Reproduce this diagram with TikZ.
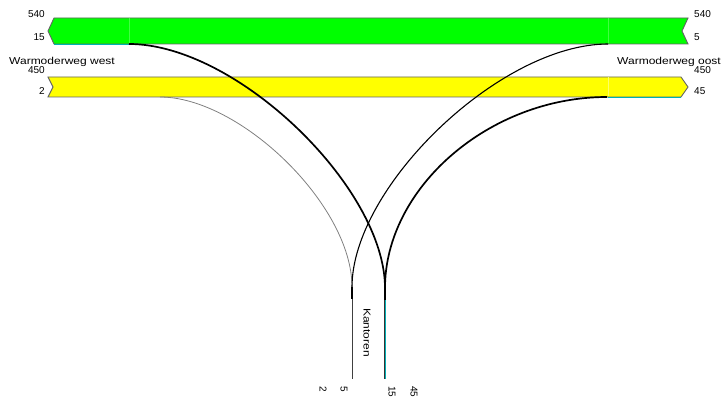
\documentclass[tikz,border=0pt]{standalone}
\usepackage{graphicx}
\usepackage{fontspec}
\setmainfont{Liberation Sans}
\usepackage{tikz}
\usetikzlibrary{positioning}

\definecolor{flowgreen}{RGB}{0,255,0}
\definecolor{flowyellow}{RGB}{255,255,0}
\definecolor{edgegray}{RGB}{100,100,100}
\definecolor{flowteal}{RGB}{0,175,180}

\tikzset{
  band/.style={draw=edgegray, line width=0.9pt},
  num/.style={font=\fontsize{10}{12}\selectfont, inner sep=0pt},
  thinflow/.style={draw=gray, line width=0.8pt},
  midflow/.style={draw=black, line width=1.1pt},
  thickflow/.style={draw=black, line width=1.7pt},
}

\begin{document}
\begin{tikzpicture}[x=1pt, y=-1pt]
    \useasboundingbox (0,0) rectangle (723,401);

    % the two directions of the main road
    \filldraw[band, fill=flowgreen] (54,18) -- (688,18) -- (682,31) -- (688,44) -- (54,44) -- (48,31) -- cycle;
    \filldraw[band, fill=flowyellow] (48,77) -- (681,77) -- (688,87) -- (681,97) -- (48,97) -- (53,87) -- cycle;
    \draw[flowgreen!75!white, line width=0.5pt] (129,18.5) -- (129,43.5) (608,18.5) -- (608,43.5);
    \draw[flowyellow!60!white, line width=0.5pt] (608,77.5) -- (608,96.5);
    \draw[flowteal, line width=0.8pt] (54,44) -- (129,44) (608,97) -- (681,97);

    % where the flows leave and join
    \coordinate (gw) at (129,44);
    \coordinate (ge) at (608,44);
    \coordinate (yw) at (160,97);
    \coordinate (ye) at (607,97);
    \coordinate (k1) at (352,287);
    \coordinate (k2) at (385,288);
    \coordinate (k2mid) at (385,300);
    \coordinate (k1end) at (352,379);
    \coordinate (k2end) at (385,379);

    \draw[thinflow] (yw) .. controls +(80,0) and +(0,-82) .. (k1);
    \draw[midflow] (ge) .. controls +(-108,0) and +(0,-100) .. (k1);
    \draw[thickflow] (gw) .. controls +(108,0) and +(0,-100) .. (k2);
    \draw[thickflow] (ye) .. controls +(-118,0) and +(0,-100) .. (k2);

    \draw[draw=black!75, line width=0.9pt] (k1) -- (k1end);
    \draw[draw=black, line width=1.3pt] (k1) -- ++(0,12);
    \draw[draw=black, line width=1.8pt] (k2) -- (k2mid);
    \draw[draw=black!80, line width=0.6pt] ([xshift=-0.7pt]k2mid) -- ([xshift=-0.7pt]k2end);
    \draw[draw=flowteal, line width=1.3pt] ([xshift=0.3pt]k2mid) -- ([xshift=0.3pt]k2end);

    % labels west
    \node[num, anchor=east] (w540) at (45,14) {540};
    \node[num, anchor=east] (w15) at (45,37) {15};
    \node[num, anchor=west] (wname) at (9,62) {\scalebox{1.2}[1]{Warmoderweg west}};
    \node[num, anchor=east] (w450) at (45,70) {450};
    \node[num, anchor=east] (w2) at (45,91) {2};

    % labels oost
    \node[num, anchor=west] (e540) at (694,14) {540};
    \node[num, anchor=west] (e5) at (694,37) {5};
    \node[num, anchor=west] (ename) at (617,62) {\scalebox{1.2}[1]{Warmoderweg oost}};
    \node[num, anchor=west] (e450) at (694,70) {450};
    \node[num, anchor=west] (e45) at (694,91) {45};

    % labels Kantoren
    \node[num, rotate=-90, anchor=west] (kname) at (367,308) {\scalebox{1.2}[1]{Kantoren}};
    \node[num, rotate=-90, anchor=west] (k2in) at (323,386) {2};
    \node[num, rotate=-90, anchor=west] (k5out) at (344,386) {5};
    \node[num, rotate=-90, anchor=west] (k15out) at (392,386) {15};
    \node[num, rotate=-90, anchor=west] (k45in) at (414,386) {45};
\end{tikzpicture}
\end{document}
